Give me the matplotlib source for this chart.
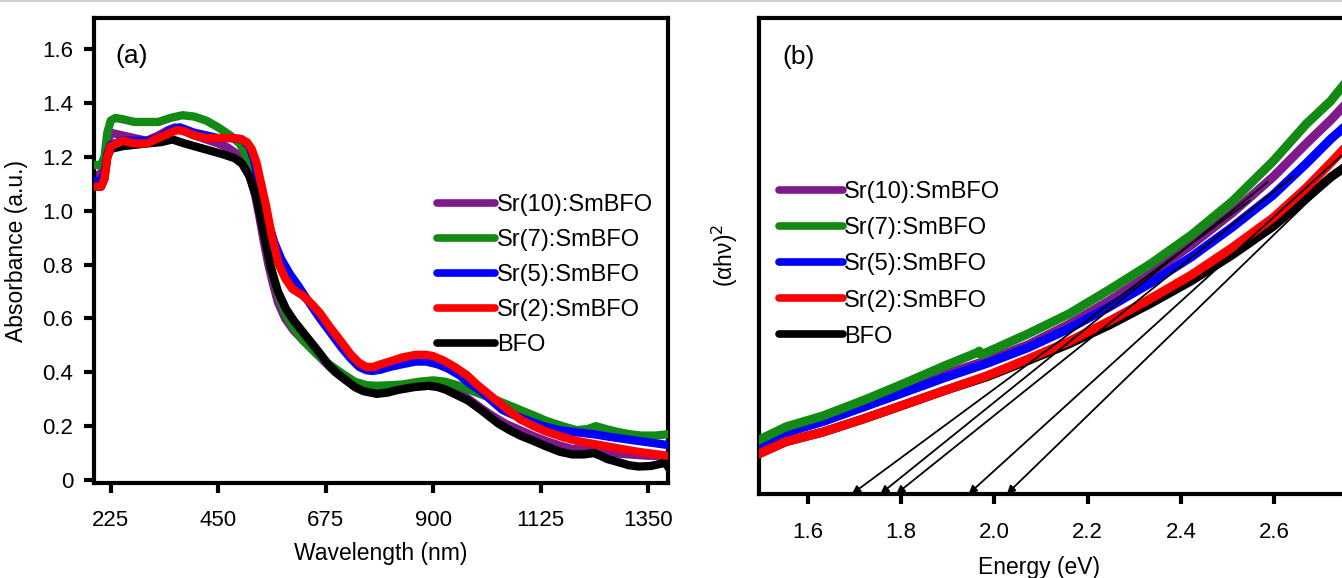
import numpy as np
import matplotlib.pyplot as plt
from matplotlib.lines import Line2D

plt.rcParams['font.family'] = ['Liberation Sans', 'DejaVu Sans']

# ---- panel (a): absorbance spectra ----
labels = ['Sr(10):SmBFO', 'Sr(7):SmBFO', 'Sr(5):SmBFO', 'Sr(2):SmBFO', 'BFO']
colors = ['#7f1a8c', '#138a13', '#0000ff', '#ff0000', '#000000']

wl_sr10 = [195, 205, 212, 218, 225, 250, 275, 300, 325, 345, 360, 380, 400, 425, 450, 470, 490, 505, 518, 527,
           536, 545, 555, 563, 575, 590, 608, 627, 650, 672, 695, 718, 740, 763, 785, 809, 835, 863, 885, 909,
           935, 963, 990, 1018, 1050, 1082, 1110, 1136, 1165, 1191, 1220, 1245, 1275, 1309, 1350, 1391]
ab_sr10 = [1.13, 1.14, 1.17, 1.25, 1.29, 1.28, 1.27, 1.26, 1.28, 1.30, 1.31, 1.295, 1.28, 1.265, 1.25, 1.235, 1.21, 1.17, 1.12, 1.06,
           0.98, 0.89, 0.80, 0.74, 0.66, 0.60, 0.555, 0.52, 0.48, 0.44, 0.40, 0.37, 0.345, 0.33, 0.325, 0.33, 0.34, 0.35, 0.352, 0.35,
           0.335, 0.315, 0.28, 0.245, 0.21, 0.185, 0.163, 0.145, 0.128, 0.115, 0.112, 0.11, 0.10, 0.095, 0.09, 0.09]

wl_sr7 = [195, 205, 212, 218, 225, 235, 250, 275, 300, 325, 350, 375, 400, 425, 450, 475, 495, 510, 520, 530,
          540, 550, 563, 575, 590, 608, 627, 655, 682, 710, 736, 760, 782, 810, 836, 870, 900, 925, 954, 990,
          1027, 1055, 1082, 1110, 1136, 1170, 1200, 1225, 1240, 1260, 1282, 1310, 1336, 1365, 1391]
ab_sr7 = [1.17, 1.17, 1.20, 1.29, 1.335, 1.345, 1.34, 1.33, 1.33, 1.33, 1.345, 1.355, 1.35, 1.335, 1.31, 1.28, 1.25, 1.20, 1.14, 1.06,
          0.97, 0.88, 0.77, 0.69, 0.62, 0.565, 0.52, 0.47, 0.43, 0.395, 0.365, 0.352, 0.35, 0.352, 0.355, 0.365, 0.37, 0.365, 0.35, 0.325,
          0.30, 0.28, 0.26, 0.24, 0.22, 0.20, 0.185, 0.19, 0.20, 0.19, 0.18, 0.17, 0.165, 0.165, 0.17]

wl_sr5 = [195, 205, 212, 218, 225, 250, 275, 300, 325, 350, 370, 385, 400, 425, 450, 480, 500, 515, 525, 536,
          545, 554, 568, 582, 600, 618, 640, 663, 686, 709, 728, 745, 760, 773, 790, 809, 835, 863, 885, 909,
          930, 954, 975, 1000, 1022, 1045, 1070, 1100, 1130, 1164, 1200, 1236, 1270, 1309, 1350, 1391]
ab_sr5 = [1.11, 1.11, 1.14, 1.21, 1.245, 1.26, 1.26, 1.26, 1.27, 1.30, 1.31, 1.30, 1.29, 1.28, 1.27, 1.27, 1.265, 1.24, 1.19, 1.10,
          1.03, 0.96, 0.88, 0.82, 0.765, 0.72, 0.66, 0.60, 0.545, 0.49, 0.45, 0.42, 0.408, 0.405, 0.41, 0.42, 0.43, 0.44, 0.44, 0.43,
          0.415, 0.39, 0.36, 0.33, 0.295, 0.26, 0.24, 0.22, 0.20, 0.185, 0.177, 0.17, 0.16, 0.15, 0.14, 0.13]

wl_sr2 = [195, 205, 212, 218, 225, 250, 275, 300, 325, 350, 365, 380, 400, 425, 450, 475, 495, 510, 520, 530,
          540, 550, 563, 577, 590, 605, 627, 645, 663, 685, 709, 728, 745, 760, 775, 790, 809, 835, 863, 885,
          900, 920, 945, 970, 991, 1015, 1036, 1060, 1082, 1110, 1136, 1170, 1200, 1264, 1327, 1391]
ab_sr2 = [1.09, 1.09, 1.12, 1.20, 1.24, 1.26, 1.25, 1.25, 1.27, 1.29, 1.30, 1.295, 1.28, 1.27, 1.27, 1.27, 1.268, 1.255, 1.23, 1.18,
          1.10, 1.02, 0.90, 0.80, 0.75, 0.71, 0.685, 0.655, 0.62, 0.565, 0.51, 0.465, 0.435, 0.42, 0.42, 0.43, 0.44, 0.455, 0.465, 0.465,
          0.46, 0.445, 0.42, 0.39, 0.355, 0.32, 0.29, 0.255, 0.225, 0.20, 0.18, 0.16, 0.145, 0.125, 0.105, 0.09]

wl_bfo = [195, 205, 212, 218, 225, 250, 300, 330, 354, 380, 400, 430, 460, 485, 500, 515, 530, 545, 560, 575,
          592, 609, 627, 645, 663, 682, 700, 718, 736, 754, 782, 805, 827, 860, 891, 910, 927, 950, 973, 1000,
          1036, 1060, 1082, 1110, 1136, 1165, 1191, 1215, 1236, 1250, 1264, 1290, 1309, 1330, 1355, 1375, 1385, 1391]
ab_bfo = [1.09, 1.09, 1.12, 1.20, 1.23, 1.24, 1.25, 1.255, 1.265, 1.25, 1.24, 1.225, 1.21, 1.195, 1.175, 1.13, 1.05, 0.92, 0.79, 0.70,
          0.635, 0.59, 0.55, 0.51, 0.47, 0.425, 0.395, 0.37, 0.345, 0.33, 0.32, 0.325, 0.335, 0.345, 0.35, 0.345, 0.335, 0.315, 0.295, 0.26,
          0.21, 0.185, 0.165, 0.145, 0.125, 0.105, 0.095, 0.095, 0.10, 0.09, 0.078, 0.065, 0.055, 0.05, 0.052, 0.06, 0.065, 0.05]

# ---- panel (b): Tauc plot (arbitrary units) ----
en_b = [1.497, 1.554, 1.633, 1.721, 1.809, 1.896, 1.984, 2.072, 2.16, 2.247, 2.335, 2.423, 2.51, 2.598, 2.668, 2.721, 2.75]
tauc_sr10 = [1.02, 1.33, 1.56, 1.88, 2.20, 2.52, 2.80, 3.13, 3.56, 4.06, 4.62, 5.23, 5.90, 6.66, 7.35, 7.85, 8.15]
tauc_sr5 = [0.98, 1.29, 1.52, 1.83, 2.14, 2.45, 2.74, 3.07, 3.47, 3.93, 4.43, 4.98, 5.60, 6.28, 6.93, 7.45, 7.70]
tauc_sr2 = [0.85, 1.10, 1.30, 1.58, 1.88, 2.18, 2.48, 2.83, 3.20, 3.63, 4.10, 4.60, 5.17, 5.80, 6.42, 6.95, 7.25]
tauc_bfo = [0.85, 1.10, 1.30, 1.58, 1.88, 2.18, 2.46, 2.80, 3.15, 3.55, 4.00, 4.48, 5.02, 5.62, 6.20, 6.65, 6.85]
en_sr7 = [1.497, 1.554, 1.633, 1.721, 1.809, 1.896, 1.964, 1.968, 1.972, 2.072, 2.16, 2.247, 2.335, 2.423, 2.51, 2.598, 2.668, 2.721, 2.75]
tauc_sr7 = [1.14, 1.41, 1.64, 1.97, 2.33, 2.70, 2.97, 3.00, 2.92, 3.36, 3.78, 4.29, 4.83, 5.44, 6.14, 6.99, 7.76, 8.25, 8.60]

# band-gap extrapolations: x-intercept and upper end of each line
gap_E = [1.695, 1.756, 1.790, 1.945, 2.027]
tan_top_E = [2.548, 2.585, 2.640, 2.80, 2.80]
tan_top_y = [6.16, 6.54, 6.67, 7.60, 7.35]

fig = plt.figure(figsize=(13.42, 5.78), dpi=100)
fig.add_artist(Line2D([0, 1], [0.998, 0.998], color='#d0d0d0', lw=1.5))

ax1 = fig.add_axes([0.0700, 0.1635, 0.4277, 0.8062])
ax2 = fig.add_axes([0.5659, 0.1453, 0.4532, 0.8244])

series_a = [(wl_sr10, ab_sr10), (wl_sr7, ab_sr7), (wl_sr5, ab_sr5), (wl_sr2, ab_sr2), (wl_bfo, ab_bfo)]
draw_order_a = [0, 1, 2, 4, 3]
for i in draw_order_a:
    x, y = series_a[i]
    ax1.plot(x, y, color=colors[i], lw=6, solid_joinstyle='round', zorder=2 + draw_order_a.index(i))

ax1.set_xlim(190, 1391)
ax1.set_ylim(-0.013, 1.718)
ax1.set_xticks([225, 450, 675, 900, 1125, 1350])
ax1.set_yticks([0, 0.2, 0.4, 0.6, 0.8, 1.0, 1.2, 1.4, 1.6])
ax1.set_yticklabels(['0', '0.2', '0.4', '0.6', '0.8', '1.0', '1.2', '1.4', '1.6'])
ax1.set_xlabel('Wavelength (nm)', fontsize=16.5, labelpad=8)
ax1.set_ylabel('Absorbance (a.u.)', fontsize=16.5, labelpad=10)
ax1.text(0.038, 0.918, '(a)', transform=ax1.transAxes, fontsize=19, va='center')

series_b = [(en_b, tauc_sr10), (en_sr7, tauc_sr7), (en_b, tauc_sr5), (en_b, tauc_sr2), (en_b, tauc_bfo)]
draw_order_b = [4, 0, 2, 3, 1]
for i in draw_order_b:
    x, y = series_b[i]
    ax2.plot(x, y, color=colors[i], lw=6.5, solid_joinstyle='round', zorder=2 + draw_order_b.index(i))

for g, te, ty in zip(gap_E, tan_top_E, tan_top_y):
    ax2.annotate('', xy=(g, 0), xytext=(te, ty), zorder=10,
                 arrowprops=dict(arrowstyle='-|>', color='k', lw=1.3, mutation_scale=12,
                                 shrinkA=0, shrinkB=0))

ax2.set_xlim(1.497, 2.8)
ax2.set_ylim(0, 10)
ax2.set_xticks([1.6, 1.8, 2.0, 2.2, 2.4, 2.6])
ax2.set_yticks([])
ax2.set_xlabel('Energy (eV)', fontsize=16.5)
ax2.xaxis.set_label_coords(0.46, -0.13)
ax2.set_ylabel(r'(αhν)$^2$', fontsize=16.5, labelpad=14)
ax2.text(0.038, 0.918, '(b)', transform=ax2.transAxes, fontsize=19, va='center')

for ax in (ax1, ax2):
    for sp in ax.spines.values():
        sp.set_linewidth(3)
    ax.tick_params(axis='both', direction='out', length=7, width=3, labelsize=16)
ax1.tick_params(axis='y', pad=8)
ax1.tick_params(axis='x', pad=12)
ax2.tick_params(axis='x', pad=13)

handles = [Line2D([], [], color=c, lw=5.5, solid_capstyle='round') for c in colors]
ax1.legend(handles, labels, loc='upper left', bbox_to_anchor=(437 / 1342, 1 - 194 / 578),
           bbox_transform=fig.transFigure, frameon=False, fontsize=17, handlelength=2.45,
           handletextpad=0.1, labelspacing=0.55, borderpad=0, borderaxespad=0)
ax2.legend(handles, labels, loc='upper left', bbox_to_anchor=(779 / 1342, 1 - 181 / 578),
           bbox_transform=fig.transFigure, frameon=False, fontsize=17, handlelength=2.7,
           handletextpad=0.05, labelspacing=0.6, borderpad=0, borderaxespad=0)

fig.savefig('out.png', dpi=100)
